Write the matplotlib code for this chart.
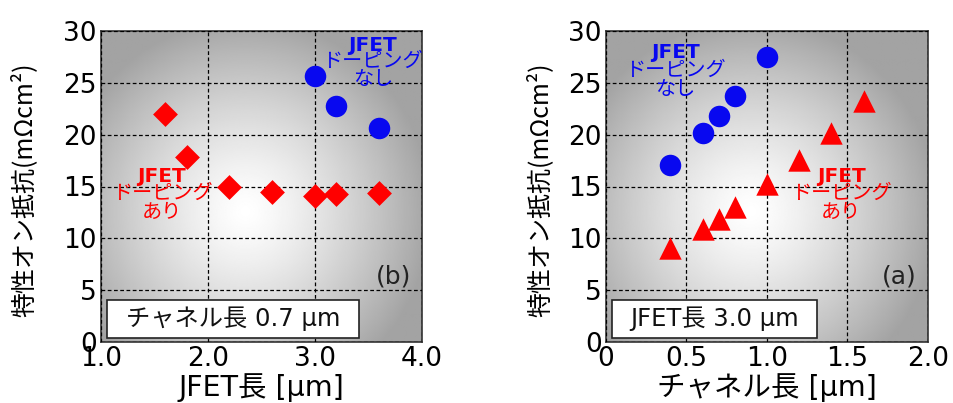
import numpy as np
import matplotlib
matplotlib.use("Agg")
import matplotlib.pyplot as plt
from matplotlib.patches import Rectangle

plt.rcParams['font.family'] = ['DejaVu Sans', 'Noto Sans CJK JP']

# Panel (b): vs JFET length (channel length 0.7 um)
b_nodope_x = [3.0, 3.2, 3.6]
b_nodope_y = [25.7, 22.8, 20.6]
b_dope_x = [1.6, 1.8, 2.2, 2.6, 3.0, 3.2, 3.6]
b_dope_y = [22.0, 17.8, 15.0, 14.5, 14.1, 14.3, 14.4]

# Panel (a): vs channel length (JFET length 3.0 um)
a_nodope_x = [0.4, 0.6, 0.7, 0.8, 1.0]
a_nodope_y = [17.1, 20.2, 21.8, 23.7, 27.5]
a_dope_x = [0.4, 0.6, 0.7, 0.8, 1.0, 1.2, 1.4, 1.6]
a_dope_y = [9.1, 10.9, 11.9, 13.0, 15.2, 17.6, 20.2, 23.2]

b_xticks = [1.0, 2.0, 3.0, 4.0]
b_xticklabels = ['1.0', '2.0', '3.0', '4.0']
a_xticks = [0, 0.5, 1.0, 1.5, 2.0]
a_xticklabels = ['0', '0.5', '1.0', '1.5', '2.0']
yticks = [0, 5, 10, 15, 20, 25, 30]

BLUE = '#0808f0'
RED = '#ff0000'

fig = plt.figure(figsize=(9.54, 4.03), dpi=100)
W, H = 954, 403
axb = fig.add_axes([101 / W, 1 - 342 / H, 321 / W, 311 / H])
axa = fig.add_axes([606 / W, 1 - 342 / H, 322 / W, 311 / H])

jp = ['Noto Sans CJK JP', 'DejaVu Sans']
mixed = ['DejaVu Sans', 'Noto Sans CJK JP']


def background(ax, xlim, cx, cy):
    n = 300
    xs = np.linspace(0, 1, n)
    ys = np.linspace(0, 1, n)
    X, Y = np.meshgrid(xs, ys)
    r = np.sqrt(((X - cx) / 0.58) ** 2 + ((Y - cy) / 0.62) ** 2)
    v = np.clip(1.0 - 0.36 * np.clip(r, 0, 1) ** 1.3, 0, 1)
    ax.imshow(v, cmap='gray', vmin=0, vmax=1, origin='lower',
              extent=[xlim[0], xlim[1], 0, 30], aspect='auto', zorder=0,
              interpolation='bilinear')


def style(ax, xlim, xticks, xticklabels, xlabel, ylabel_x, box_x1, boxtext, tag):
    ax.set_xlim(*xlim)
    ax.set_ylim(0, 30)
    ax.set_xticks(xticks)
    ax.set_xticklabels(xticklabels)
    ax.set_yticks(yticks)
    ax.tick_params(length=0, labelsize=19, pad=3)
    ax.grid(True, color='black', linestyle=(0, (3, 2)), linewidth=0.9)
    ax.set_axisbelow(False)
    for s in ax.spines.values():
        s.set_linewidth(1.2)
        s.set_color('#333333')
    ax.set_xlabel(xlabel, fontsize=20.5, family=mixed)
    ax.xaxis.label.set_va('center')
    ax.xaxis.set_label_coords(0.5, -0.145)
    ax.set_ylabel('特性オン抵抗(mΩcm²)', fontsize=18, family=jp)
    ax.yaxis.label.set_va('center')
    ax.yaxis.set_label_coords(ylabel_x, 0.49)
    ax.add_patch(Rectangle((0.018, 0.013), box_x1 - 0.018, 0.122,
                           transform=ax.transAxes, fc='white', ec='#222222',
                           lw=1.2, zorder=5))
    ax.text((0.018 + box_x1) / 2, 0.074, boxtext, transform=ax.transAxes,
            fontsize=17.5, family=mixed, color='#111111',
            ha='center', va='center', zorder=6)
    ax.text(0.965, 0.21, tag, transform=ax.transAxes, fontsize=18,
            color='#222222', ha='right', va='center', zorder=5)


def label(ax, x, y_top, y_block, color, second):
    ax.text(x, y_top, 'JFET', color=color, fontsize=14.5, fontweight='bold',
            ha='center', va='center', zorder=5, family='DejaVu Sans')
    ax.text(x, y_block, 'ドーピング\n' + second, color=color, fontsize=14.5,
            ha='center', va='center', zorder=5, family=jp,
            linespacing=0.85, multialignment='center')


background(axb, (1.0, 4.0), 0.45, 0.42)
axb.scatter(b_nodope_x, b_nodope_y, s=240, marker='o', color=BLUE, zorder=4, linewidths=0)
axb.scatter(b_dope_x, b_dope_y, s=160, marker='D', color=RED, zorder=4, linewidths=0)
style(axb, (1.0, 4.0), b_xticks, b_xticklabels, 'JFET長 [μm]', -0.241, 0.804,
      'チャネル長 0.7 μm', '(b)')
label(axb, 3.54, 28.6, 26.2, BLUE, 'なし')
label(axb, 1.57, 16.0, 13.4, RED, 'あり')

background(axa, (0.0, 2.0), 0.45, 0.42)
axa.scatter(a_nodope_x, a_nodope_y, s=240, marker='o', color=BLUE, zorder=4, linewidths=0)
axa.scatter(a_dope_x, a_dope_y, s=260, marker='^', color=RED, zorder=4, linewidths=0)
style(axa, (0.0, 2.0), a_xticks, a_xticklabels, 'チャネル長 [μm]', -0.205, 0.655,
      'JFET長 3.0 μm', '(a)')
label(axa, 0.43, 27.9, 25.3, BLUE, 'なし')
label(axa, 1.46, 16.0, 13.4, RED, 'あり')

fig.savefig('out.png', dpi=100)
